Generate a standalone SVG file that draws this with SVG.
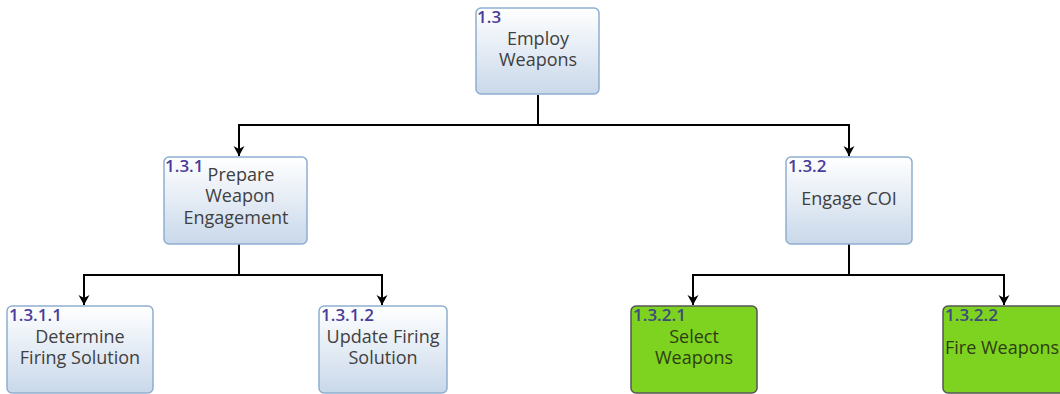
<svg xmlns="http://www.w3.org/2000/svg" width="1060" height="394" viewBox="0 0 1060 394">
<defs>
<linearGradient id="g" x1="0" y1="0" x2="0" y2="1">
<stop offset="0" stop-color="#ffffff"/>
<stop offset="1" stop-color="#c9d8ea"/>
</linearGradient>
<marker id="arr" viewBox="0 0 12 12" refX="11" refY="6" markerWidth="12" markerHeight="12" markerUnits="userSpaceOnUse" orient="auto">
<path d="M1,0.5 L11,6 L1,11.5 L4,6 Z" fill="#000"/>
</marker>
</defs>
<style>
.n{fill:url(#g);stroke:#8eaed0;stroke-width:1.5}
.gn{fill:#7ed321;stroke:#555;stroke-width:1.5}
.t{font-family:"Open Sans","Noto Sans",sans-serif;font-size:18px;fill:#404040;text-anchor:middle}
.gt{font-family:"Open Sans","Noto Sans",sans-serif;font-size:18px;fill:#2e3d10;text-anchor:middle}
.id{font-family:"Open Sans","Noto Sans",sans-serif;font-size:17px;font-weight:600;fill:#4a3c9a}
.gid{font-family:"Open Sans","Noto Sans",sans-serif;font-size:17px;font-weight:600;fill:#3d4a7a}
.c{fill:none;stroke:#000;stroke-width:2}
</style>
<g id="connectors">
<path class="c" d="M538,95 V125 H239 V156" marker-end="url(#arr)"/>
<path class="c" d="M538,125 H849 V156" marker-end="url(#arr)"/>
<path class="c" d="M239,244 V275 H84 V305" marker-end="url(#arr)"/>
<path class="c" d="M239,275 H382 V305" marker-end="url(#arr)"/>
<path class="c" d="M849,244 V275 H693 V305" marker-end="url(#arr)"/>
<path class="c" d="M849,275 H1004 V305" marker-end="url(#arr)"/>
</g>
<g id="n1_3">
<rect class="n" x="476" y="8" width="123" height="86" rx="5"/>
<text class="id" x="477" y="23">1.3</text>
<text class="t" x="538" y="45">Employ<tspan x="538" dy="21">Weapons</tspan></text>
</g>
<g id="n1_3_1">
<rect class="n" x="164" y="157" width="143" height="87" rx="5"/>
<text class="id" x="165" y="172">1.3.1</text>
<text class="t" x="241" y="181">Prepare<tspan x="240" dy="21">Weapon</tspan><tspan x="236" dy="22">Engagement</tspan></text>
</g>
<g id="n1_3_2">
<rect class="n" x="786" y="157" width="126" height="87" rx="5"/>
<text class="id" x="788" y="172">1.3.2</text>
<text class="t" x="849" y="205">Engage COI</text>
</g>
<g id="n1_3_1_1">
<rect class="n" x="7" y="306" width="146" height="87" rx="5"/>
<text class="id" x="9" y="321">1.3.1.1</text>
<text class="t" x="80" y="343">Determine<tspan x="80" dy="21">Firing Solution</tspan></text>
</g>
<g id="n1_3_1_2">
<rect class="n" x="319" y="306" width="128" height="87" rx="5"/>
<text class="id" x="321" y="321">1.3.1.2</text>
<text class="t" x="383" y="343">Update Firing<tspan x="383" dy="21">Solution</tspan></text>
</g>
<g id="n1_3_2_1">
<rect class="gn" x="631" y="306" width="126" height="87" rx="5"/>
<text class="gid" x="633" y="321">1.3.2.1</text>
<text class="gt" x="694" y="343">Select<tspan x="694" dy="21">Weapons</tspan></text>
</g>
<g id="n1_3_2_2">
<rect class="gn" x="943" y="306" width="126" height="87" rx="5"/>
<text class="gid" x="945" y="321">1.3.2.2</text>
<text class="gt" x="945" y="354" style="text-anchor:start">Fire Weapons</text>
</g>
</svg>
